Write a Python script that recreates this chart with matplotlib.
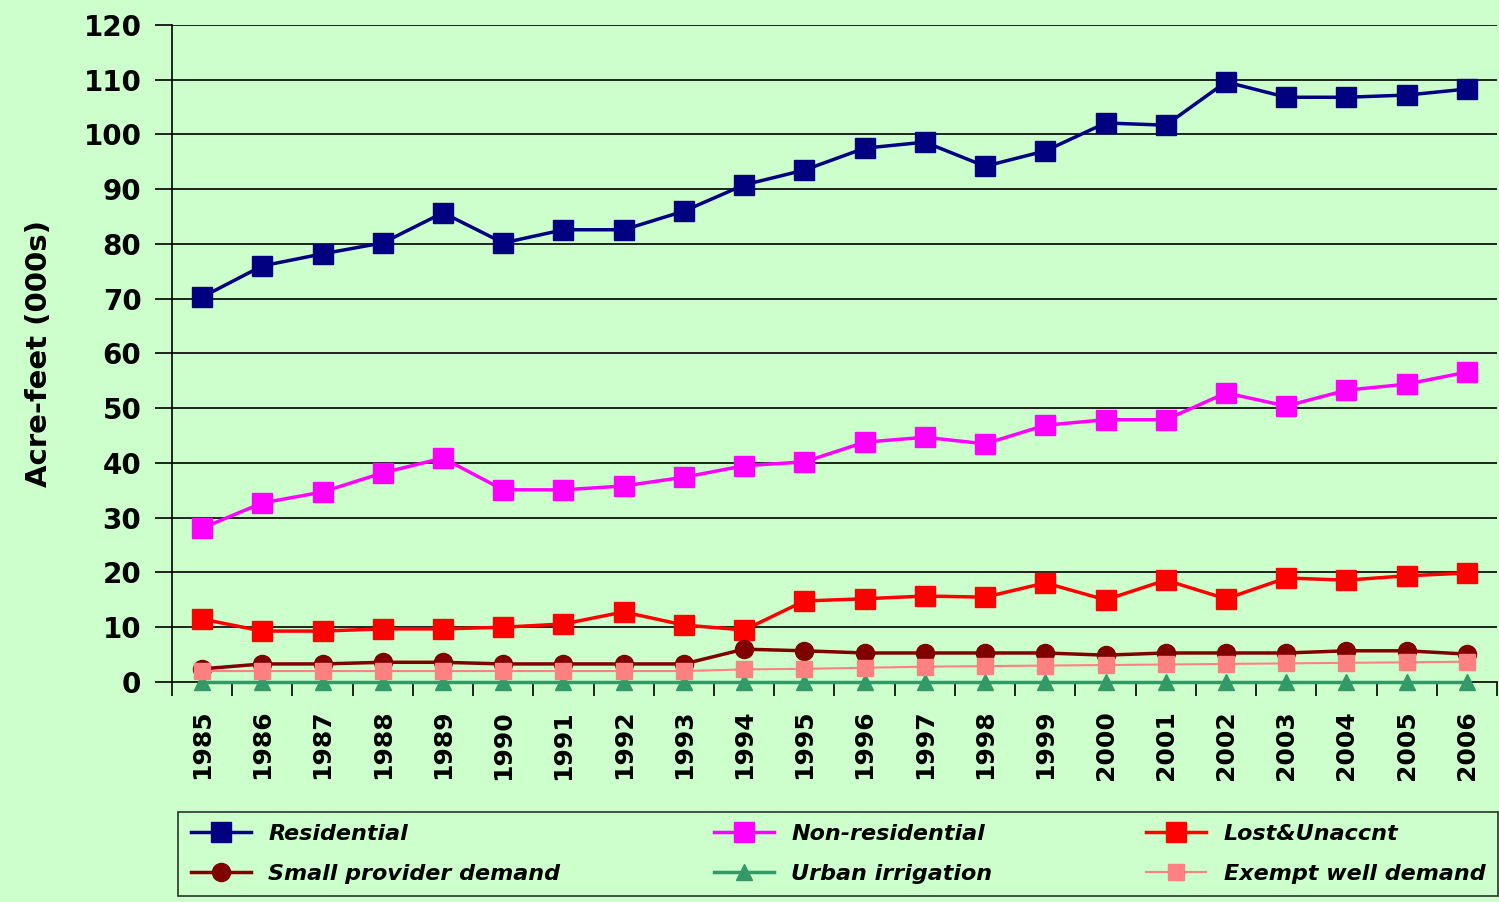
import numpy as np
import matplotlib.pyplot as plt

years = [str(y) for y in range(1985, 2007)]

residential = [70.3, 76.0, 78.2, 80.2, 85.7, 80.2, 82.6, 82.6, 86.0, 90.8, 93.5,
               97.5, 98.6, 94.2, 97.0, 102.1, 101.7, 109.6, 106.8, 106.8, 107.2, 108.3]
non_residential = [28.1, 32.7, 34.7, 38.2, 40.9, 35.1, 35.1, 35.8, 37.4, 39.5, 40.2,
                    43.8, 44.7, 43.5, 46.9, 47.9, 47.9, 52.8, 50.4, 53.3, 54.4, 56.6]
lost_unaccnt = [11.5, 9.3, 9.3, 9.7, 9.7, 10.0, 10.6, 12.8, 10.4, 9.5, 14.8,
                15.2, 15.7, 15.5, 18.1, 15.0, 18.6, 15.2, 19.0, 18.6, 19.4, 19.9]
small_provider = [2.4, 3.3, 3.3, 3.6, 3.6, 3.3, 3.3, 3.3, 3.3, 6.0, 5.7,
                  5.3, 5.3, 5.3, 5.3, 4.9, 5.3, 5.3, 5.3, 5.7, 5.7, 5.1]
urban_irrigation = [0.0] * 22
exempt_well = [2.0, 2.0, 2.0, 2.0, 2.0, 2.0, 2.0, 2.0, 2.0, 2.3, 2.4,
               2.6, 2.8, 2.9, 3.0, 3.1, 3.2, 3.3, 3.4, 3.5, 3.6, 3.7]

bg = '#ccffcc'
x = np.arange(len(years))

fig = plt.figure(figsize=(14.99, 9.02), dpi=100, facecolor=bg)
ax = fig.add_axes([0.1147, 0.2439, 0.884, 0.7284], facecolor=bg)

for v in range(10, 130, 10):
    ax.axhline(v, color='black', lw=1.2, zorder=1)

series = [
    (residential, 'Residential', '#000080', 's', 14),
    (non_residential, 'Non-residential', '#ff00ff', 's', 14),
    (lost_unaccnt, 'Lost&Unaccnt', '#ff0000', 's', 14),
    (small_provider, 'Small provider demand', '#800000', 'o', 13),
    (urban_irrigation, 'Urban irrigation', '#339966', '^', 12),
    (exempt_well, 'Exempt well demand', '#ff8080', 's', 11),
]
handles = {}
for vals, lab, col, mk, ms in series:
    lw = 1.5 if lab == 'Exempt well demand' else 2.5
    h, = ax.plot(x, vals, color=col, marker=mk, markersize=ms, lw=lw,
                 label=lab, zorder=3, clip_on=False)
    handles[lab] = h

ax.set_xlim(-0.5, len(years) - 0.5)
ax.set_ylim(0, 120)
ax.set_yticks(range(0, 130, 10))
ax.set_xticks(x)
ax.set_xticklabels(years, rotation=90, fontsize=18, fontweight='bold')
ax.set_xticks(np.arange(-0.5, len(years), 1), minor=True)
ax.tick_params(axis='x', which='major', length=0, pad=20)
ax.tick_params(axis='x', which='minor', length=10, width=1.2, direction='out')
ax.tick_params(axis='y', length=12, width=1.2, labelsize=20, pad=10)
for t in ax.get_yticklabels():
    t.set_fontweight('bold')
ax.set_ylabel('Acre-feet (000s)', fontsize=21, fontweight='bold', labelpad=22)

ax.spines['top'].set_visible(False)
ax.spines['right'].set_visible(False)
ax.spines['left'].set_linewidth(1.2)
ax.spines['bottom'].set_linewidth(1.2)

order = ['Residential', 'Small provider demand', 'Non-residential',
         'Urban irrigation', 'Lost&Unaccnt', 'Exempt well demand']
leg = fig.legend([handles[k] for k in order], order, ncol=3,
                 loc='upper left', bbox_to_anchor=(0.119, 0.0998, 0.88, 0.0),
                 mode='expand', borderaxespad=0, frameon=True, fancybox=False,
                 edgecolor='black', facecolor=bg, handlelength=2.7,
                 prop={'size': 16, 'weight': 'bold', 'style': 'italic'},
                 labelspacing=0.9, borderpad=0.55)
leg.get_frame().set_linewidth(1.2)

plt.savefig('out.png', dpi=100, facecolor=bg)
